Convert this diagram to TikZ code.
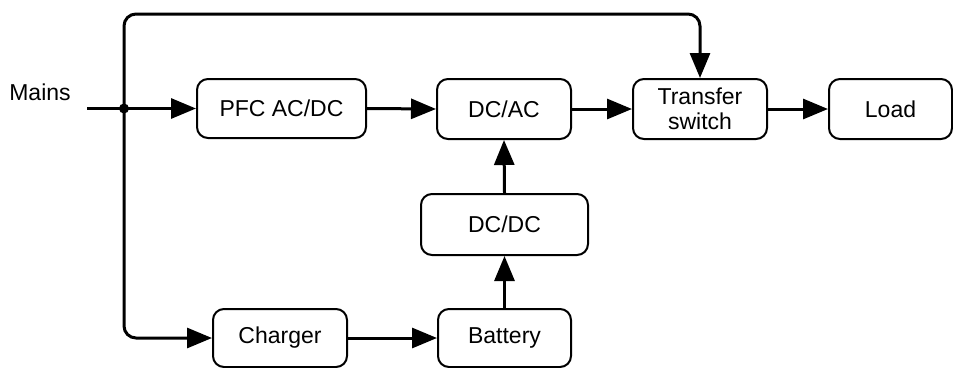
\documentclass[tikz,border=0pt]{standalone}
\usepackage{fontspec}
\setmainfont{Liberation Sans}
\usetikzlibrary{arrows.meta}
\begin{document}
\begin{tikzpicture}[x=1pt,y=-1pt,
  blk/.style={draw=black, line width=2pt, rounded corners=11pt, inner sep=0pt, align=center,
    font=\fontsize{23}{24.5}\selectfont},
  conn/.style={line width=3pt, -{Triangle[length=25pt,width=20pt]}},
  wire/.style={line width=3pt}]
\useasboundingbox (0,0) rectangle (953,367);
\node[blk, minimum width=169pt, minimum height=59pt] (pfc) at (281.5,108.5) {PFC AC/DC};
\node[blk, minimum width=134pt, minimum height=60pt] (dcac) at (504,109) {DC/AC};
\node[blk, minimum width=134pt, minimum height=60pt] (ts) at (700,109) {Transfer\\switch};
\node[blk, minimum width=123pt, minimum height=60pt] (load) at (890.5,109) {Load};
\node[blk, minimum width=167pt, minimum height=61pt] (dcdc) at (504.5,224.5) {DC/DC};
\node[blk, minimum width=134pt, minimum height=58pt] (charger) at (280,338) {Charger};
\node[blk, minimum width=133pt, minimum height=58pt] (battery) at (504.5,338) {Battery};
\node[font=\fontsize{23}{25}\selectfont, anchor=center] (mains) at (40,92) {Mains};
\coordinate (mstart) at (87,108.5);
\coordinate (j) at (124,108.5);
\coordinate (top) at (0,14);
\draw[conn] (mstart) -- (pfc.west);
\draw[conn] (pfc.east) -- (dcac.west);
\draw[conn] (dcac.east) -- (ts.west);
\draw[conn] (ts.east) -- (load.west);
\draw[conn] (charger.east) -- (battery.west);
\draw[conn] (battery.north) -- (dcdc.south);
\draw[conn] (dcdc.north) -- (dcac.south);
\draw[conn, rounded corners=12pt] (j) |- (ts.north |- top) -- (ts.north);
\draw[conn, rounded corners=12pt] (j) |- (charger.west);
\fill (j) circle (5pt);
\end{tikzpicture}
\end{document}
